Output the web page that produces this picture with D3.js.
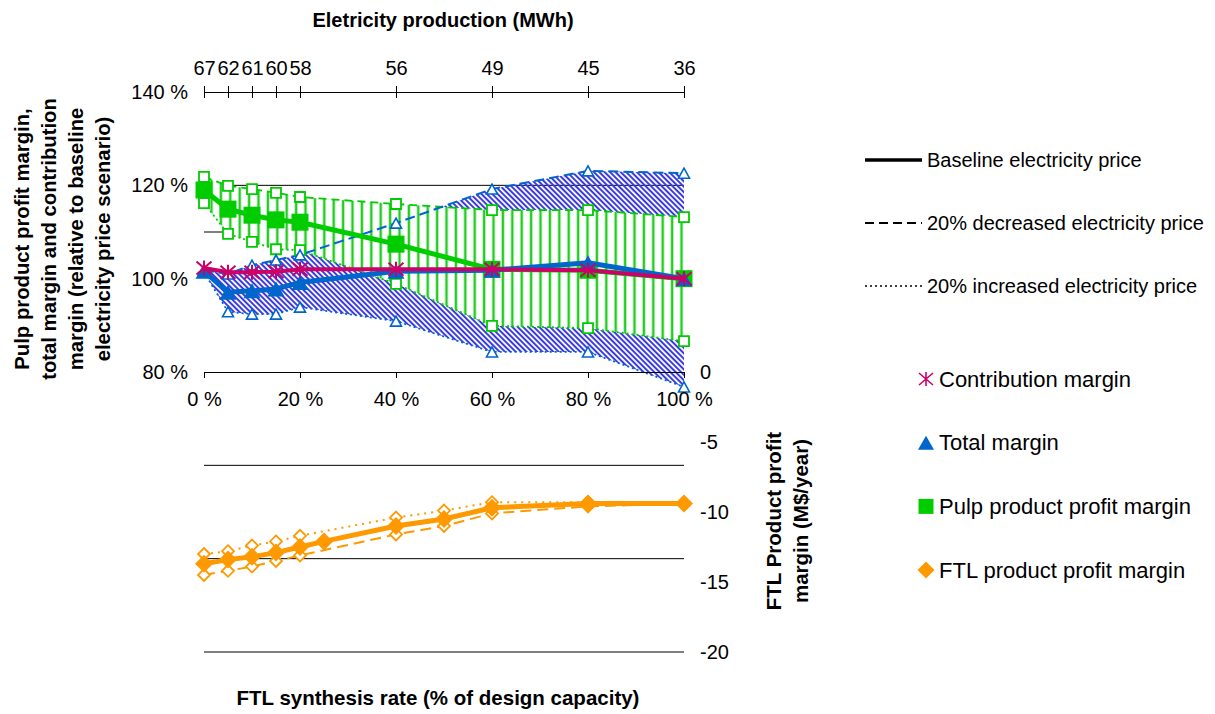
<!DOCTYPE html>
<html>
<head>
<meta charset="utf-8">
<script src="https://cdn.jsdelivr.net/npm/d3@7"></script>
<style>
body { margin: 0; background: #fff; }
svg { font-family: "Liberation Sans", Arial, sans-serif; }
</style>
</head>
<body>
<svg id="chart" width="1215" height="714"></svg>
<script>
// FTL synthesis rate (% of design capacity) and electricity production (MWh)
const rate = [0, 5, 10, 15, 20, 40, 60, 80, 100];
const elecProd = [67, 62, 61, 60, 58, 56, 49, 45, 36];

// left axis series (% of baseline electricity price scenario)
const contribution = [102.3, 101.4, 101.4, 101.5, 102.0, 102.0, 102.0, 101.8, 100.0];
const totalBase = [101.6, 97.1, 97.4, 97.8, 99.2, 101.6, 101.8, 103.4, 100.0];
const totalDec = [101.8, 101.0, 102.9, 104.0, 105.1, 111.9, 119.2, 123.1, 122.6];
const totalInc = [101.4, 92.9, 92.4, 92.4, 93.9, 90.9, 84.3, 84.3, 76.8];
const pulpBase = [119.0, 114.9, 113.6, 112.6, 112.1, 107.4, 102.0, 101.8, 100.0];
const pulpDec = [121.8, 119.9, 119.2, 118.4, 117.5, 116.0, 114.7, 114.7, 113.2];
const pulpInc = [116.2, 109.6, 107.9, 106.3, 106.1, 98.9, 89.9, 89.4, 86.6];

// right axis, FTL product profit margin (M$/year)
const ftlRate = [0, 5, 10, 15, 20, 25, 40, 50, 60, 80, 100];
const ftlBase = [-13.7, -13.4, -13.2, -12.9, -12.5, -12.1, -11.0, -10.5, -9.7, -9.4, -9.4];
const ftlRateAlt = [0, 5, 10, 15, 20, 40, 50, 60, 80, 100];
const ftlInc = [-13.0, -12.8, -12.4, -12.1, -11.7, -10.4, -9.9, -9.3, -9.3, -9.4];
const ftlDec = [-14.5, -14.2, -13.9, -13.5, -13.1, -11.6, -11.0, -10.1, -9.6, -9.4];

const xTicks = [0, 20, 40, 60, 80, 100];
const leftTicks = [80, 100, 120, 140];
const rightTicks = [0, -5, -10, -15, -20];
const gridVals = [120, 110, 60, 40, 20];

const priceLegend = ['Baseline electricity price', '20% decreased electricity price', '20% increased electricity price'];
const seriesLegend = ['Contribution margin', 'Total margin', 'Pulp product profit margin', 'FTL product profit margin'];

const C = { mag: '#CC0066', blue: '#0066CC', green: '#00CC00', orange: '#FF9900' };

const svg = d3.select('#chart');
const x = d3.scaleLinear([0, 100], [204, 684]);
const yL = d3.scaleLinear([20, 140], [652, 92]);
const yR = d3.scaleLinear([-20, 0], [652, 372]);

const defs = svg.append('defs');
defs.append('pattern')
    .attr('id', 'blueHatch')
    .attr('patternUnits', 'userSpaceOnUse')
    .attr('width', 3.8).attr('height', 3.8)
    .attr('patternTransform', 'rotate(-45)')
    .append('line')
    .attr('x1', 1.9).attr('y1', 0).attr('x2', 1.9).attr('y2', 3.8)
    .attr('stroke', '#3a3ae0').attr('stroke-width', 2);

const gp = defs.append('pattern')
    .attr('id', 'greenBars')
    .attr('patternUnits', 'userSpaceOnUse')
    .attr('width', 9.4).attr('height', 10);
gp.append('rect').attr('width', 9.4).attr('height', 10).attr('fill', '#fff');
gp.append('line').attr('x1', 4.7).attr('x2', 4.7).attr('y1', 0).attr('y2', 10)
    .attr('stroke', '#22CC22').attr('stroke-width', 2.5);

// gridlines
svg.append('g').selectAll('line').data(gridVals).join('line')
    .attr('x1', x(0)).attr('x2', x(100))
    .attr('y1', d => yL(d)).attr('y2', d => yL(d))
    .attr('stroke', '#000').attr('stroke-width', 1);

const idx = d3.range(rate.length);

// bands
const bandArea = (lo, hi) => d3.area().x(i => x(rate[i])).y0(i => yL(lo[i])).y1(i => yL(hi[i]));
svg.append('path').attr('d', bandArea(totalInc, totalDec)(idx)).attr('fill', 'url(#blueHatch)');
svg.append('path').attr('d', bandArea(pulpInc, pulpDec)(idx)).attr('fill', 'url(#greenBars)');

const lineL = vals => d3.line().x(i => x(rate[i])).y(i => yL(vals[i]));

// band edges
svg.append('path').attr('d', lineL(pulpDec)(idx)).attr('fill', 'none')
    .attr('stroke', C.green).attr('stroke-width', 1.8).attr('stroke-dasharray', '8,5');
svg.append('path').attr('d', lineL(pulpInc)(idx)).attr('fill', 'none')
    .attr('stroke', C.green).attr('stroke-width', 1.8).attr('stroke-dasharray', '2,3');
svg.append('path').attr('d', lineL(totalDec)(idx)).attr('fill', 'none')
    .attr('stroke', C.blue).attr('stroke-width', 2).attr('stroke-dasharray', '10,5');
svg.append('path').attr('d', lineL(totalInc)(idx)).attr('fill', 'none')
    .attr('stroke', C.blue).attr('stroke-width', 1.8).attr('stroke-dasharray', '2,3');

const sq = s => `M${-s},${-s}H${s}V${s}H${-s}Z`;
const tri = (w, h) => `M0,${-h}L${w},${h}L${-w},${h}Z`;
const dia = s => `M0,${-s}L${s},0L0,${s}L${-s},0Z`;
const star = (w, h) => `M${-w},${-h}L${w},${h}M${-w},${h}L${w},${-h}M0,${-h - 1}L0,${h + 1}`;

function markers(vals, xs, ys, d, fill, stroke, sw) {
    svg.append('g').selectAll('path').data(vals).join('path')
        .attr('transform', (v, i) => `translate(${x(xs[i])},${ys(v)})`)
        .attr('d', d).attr('fill', fill).attr('stroke', stroke).attr('stroke-width', sw);
}

markers(pulpDec, rate, yL, sq(5), '#fff', C.green, 1.8);
markers(pulpInc, rate, yL, sq(5), '#fff', C.green, 1.8);
markers(totalDec, rate, yL, tri(5.5, 5), '#fff', C.blue, 1.6);
markers(totalInc, rate, yL, tri(5.5, 5), '#fff', C.blue, 1.6);

// axes
const topAxis = svg.append('g').attr('transform', `translate(0,${yL(140)})`)
    .call(d3.axisTop(x).tickValues(rate).tickFormat((d, i) => elecProd[i])
        .tickSizeInner(6).tickSizeOuter(0).tickPadding(11));
topAxis.selectAll('.tick line').attr('y1', 6).attr('y2', -6);
topAxis.selectAll('text').attr('font-size', 20).attr('fill', '#000');

const botAxis = svg.append('g').attr('transform', `translate(0,${yL(80)})`)
    .call(d3.axisBottom(x).tickValues(xTicks).tickFormat(d => d + ' %')
        .tickSizeInner(6).tickSizeOuter(0).tickPadding(14));
botAxis.selectAll('text').attr('font-size', 20).attr('fill', '#000');

const leftAxis = svg.append('g').attr('transform', `translate(${x(0)},0)`)
    .call(d3.axisLeft(yL).tickValues(leftTicks).tickFormat(d => d + ' %').tickSize(0).tickPadding(16));
leftAxis.select('.domain').remove();
leftAxis.selectAll('text').attr('font-size', 20).attr('fill', '#000');

const rightAxis = svg.append('g').attr('transform', `translate(${x(100)},0)`)
    .call(d3.axisRight(yR).tickValues(rightTicks).tickFormat(d => String(d)).tickSize(0).tickPadding(16));
rightAxis.select('.domain').remove();
rightAxis.selectAll('text').attr('font-size', 20).attr('fill', '#000');

svg.selectAll('.domain, .tick line').attr('stroke', '#000');

// baseline series
svg.append('path').attr('d', lineL(pulpBase)(idx)).attr('fill', 'none')
    .attr('stroke', C.green).attr('stroke-width', 5);
markers(pulpBase, rate, yL, sq(8.5), C.green, 'none', 0);
svg.append('path').attr('d', lineL(totalBase)(idx)).attr('fill', 'none')
    .attr('stroke', C.blue).attr('stroke-width', 5);
markers(totalBase, rate, yL, tri(8.5, 7.5), C.blue, 'none', 0);
svg.append('path').attr('d', lineL(contribution)(idx)).attr('fill', 'none')
    .attr('stroke', C.mag).attr('stroke-width', 4);
markers(contribution, rate, yL, star(7.5, 6.5), 'none', C.mag, 2);

// FTL series on right axis
const ftlIdx = d3.range(ftlRateAlt.length);
const lineR = (xs, vals) => d3.line().x(i => x(xs[i])).y(i => yR(vals[i]));
svg.append('path').attr('d', lineR(ftlRateAlt, ftlDec)(ftlIdx)).attr('fill', 'none')
    .attr('stroke', C.orange).attr('stroke-width', 2).attr('stroke-dasharray', '11,6');
svg.append('path').attr('d', lineR(ftlRateAlt, ftlInc)(ftlIdx)).attr('fill', 'none')
    .attr('stroke', C.orange).attr('stroke-width', 2).attr('stroke-dasharray', '2,5');
markers(ftlDec, ftlRateAlt, yR, dia(6), '#fff', C.orange, 1.8);
markers(ftlInc, ftlRateAlt, yR, dia(6), '#fff', C.orange, 1.8);
svg.append('path').attr('d', lineR(ftlRate, ftlBase)(d3.range(ftlRate.length))).attr('fill', 'none')
    .attr('stroke', C.orange).attr('stroke-width', 5);
markers(ftlBase, ftlRate, yR, dia(9), C.orange, 'none', 0);

// titles
svg.append('text').attr('x', 443).attr('y', 27).attr('text-anchor', 'middle')
    .attr('font-size', 20).attr('font-weight', 'bold').text('Eletricity production (MWh)');
svg.append('text').attr('x', 438).attr('y', 705).attr('text-anchor', 'middle')
    .attr('font-size', 20.5).attr('font-weight', 'bold').text('FTL synthesis rate (% of design capacity)');

const leftTitle = ['Pulp product profit margin,', 'total margin and contribution', 'margin (relative to baseline', 'electricity price scenario)'];
svg.append('g').selectAll('text').data(leftTitle).join('text')
    .attr('transform', (d, i) => `translate(${29 + i * 27},239) rotate(-90)`)
    .attr('text-anchor', 'middle').attr('font-size', 20.3).attr('font-weight', 'bold').text(d => d);

const rightTitle = ['FTL Product profit', 'margin (M$/year)'];
svg.append('g').selectAll('text').data(rightTitle).join('text')
    .attr('transform', (d, i) => `translate(${781 + i * 27},521) rotate(-90)`)
    .attr('text-anchor', 'middle').attr('font-size', 20.5).attr('font-weight', 'bold').text(d => d);

// legend: price scenarios
const dashes = [null, '9,5', '2,3'];
const widths = [3.5, 2, 1.5];
const lg1 = svg.append('g').selectAll('g').data(priceLegend).join('g')
    .attr('transform', (d, i) => `translate(865,${160 + i * 63})`);
lg1.append('line').attr('x1', 0).attr('x2', 57)
    .attr('stroke', '#000').attr('stroke-width', (d, i) => widths[i])
    .attr('stroke-dasharray', (d, i) => dashes[i]);
lg1.append('text').attr('x', 62).attr('dy', '0.35em').attr('font-size', 20).text(d => d);

// legend: series
const legSyms = [
    { d: star(7, 6), fill: 'none', stroke: C.mag, sw: 1.6 },
    { d: tri(8, 7), fill: C.blue, stroke: 'none', sw: 0 },
    { d: sq(7.5), fill: C.green, stroke: 'none', sw: 0 },
    { d: dia(8.5), fill: C.orange, stroke: 'none', sw: 0 }
];
const lg2 = svg.append('g').selectAll('g').data(seriesLegend).join('g')
    .attr('transform', (d, i) => `translate(926,${379 + i * 63.7})`);
lg2.append('path').attr('d', (d, i) => legSyms[i].d).attr('fill', (d, i) => legSyms[i].fill)
    .attr('stroke', (d, i) => legSyms[i].stroke).attr('stroke-width', (d, i) => legSyms[i].sw);
lg2.append('text').attr('x', 13).attr('dy', '0.35em').attr('font-size', 22).text(d => d);
</script>
</body>
</html>
